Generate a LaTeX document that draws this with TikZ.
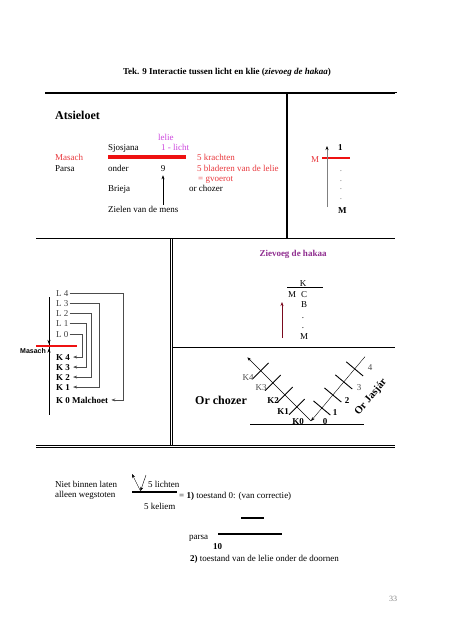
\documentclass[tikz,border=0pt]{standalone}
\usepackage{fontspec}
\setmainfont{Liberation Serif}
\newfontfamily\arialfont{Liberation Sans}
\usetikzlibrary{calc, arrows.meta}
\definecolor{roodtxt}{HTML}{E8383D}
\definecolor{roodbar}{HTML}{EE1111}
\definecolor{lila}{HTML}{CC44DD}
\definecolor{paars}{HTML}{8E2C8E}
\definecolor{donkerrood}{HTML}{7A0A1E}

\begin{document}
\begin{tikzpicture}[x=1pt, y=-1pt,
    every node/.style={inner sep=1pt, font=\fontsize{9}{11}\selectfont},
    txt/.style={anchor=base west},
    vet/.style={anchor=base west, font=\fontsize{9}{11}\selectfont\bfseries},
    rood/.style={anchor=base west, text=roodtxt},
    kader/.style={line width=1.6pt},
    dubbel/.style={double, double distance=1.4pt, line width=0.6pt},
    pijl/.style={-{Stealth[length=4pt,width=3pt]}},
    streep/.style={line width=0.9pt}]
    \useasboundingbox (0,0) rectangle (453,640);
    \draw[kader] (45,93) -- (397,93);
    \draw[kader] (287,93) -- (287,238);
    \draw[kader] (36,238.5) -- (397,238.5);
    \draw[dubbel] (396,93) -- (396,594);
    \draw[dubbel] (171.5,239) -- (171.5,446);
    \draw[thin] (172,347) -- (395,347);
    \draw[dubbel] (36,446.5) -- (395,446.5);
    \node[anchor=base, text=gray, font=\fontsize{8}{9}\selectfont] (blz) at (393,601) {33};
    \draw[dubbel] (36,594) -- (397,594);

    \node[anchor=base, font=\fontsize{9}{11}\selectfont\bfseries] (titel) at (227,74)
        {Tek. 9 Interactie tussen licht en klie (\textit{zievoeg de hakaa})};

    \node[anchor=base west, font=\fontsize{12}{14}\selectfont\bfseries] (atsieloet) at (54,119) {Atsieloet};
    \node[txt, text=lila] (lelie) at (157,140) {lelie};
    \node[txt] (sjosjana) at (107,150) {Sjosjana};
    \node[txt, text=lila] (licht) at (160,150) {1 - licht};
    \node[rood] (masach) at (54,160) {Masach};
    \draw[roodbar, line width=4pt] (108,157) -- (186,157);
    \node[rood] (krachten) at (196,160) {5 krachten};
    \node[txt] (parsa) at (54,171) {Parsa};
    \node[txt] (onder) at (107,171) {onder};
    \node[anchor=base] (negen) at (163,171) {9};
    \node[rood] (bladeren) at (196,171) {5 bladeren van de lelie};
    \node[rood] (gvoerot) at (197,181) {= gvoerot};
    \node[txt] (brieja) at (107,191) {Brieja};
    \node[txt] (chozer) at (188,191) {or chozer};
    \node[txt] (zielen) at (107,212) {Zielen van de mens};
    \draw[pijl, shorten >=3pt] (negen.south |- zielen.north) -- (negen.south);

    \node[rood] (m1) at (310,162) {M};
    \draw[roodbar, line width=1.2pt] (322,158) -- (350,158);
    \draw[gray, line width=0.8pt, -{Stealth[length=4pt,width=3pt,black]}] (327,207) -- (327,146);
    \node[vet] (een) at (337,150) {1};
    \foreach \y in {171,181,189,199}
        \node[anchor=base, text=gray] (stip\y) at (341,\y) {.};
    \node[vet] (m2) at (337,213) {M};

    \node[anchor=base, font=\fontsize{9}{11}\selectfont\bfseries, text=paars] (zievoeg) at (293,256) {Zievoeg de hakaa};
    \draw[streep] (287,287) -- (323,287);
    \node[anchor=base] (k) at (303,286) {K};
    \node[anchor=base] (mm) at (292,297) {M};
    \node[anchor=base] (c) at (304,297) {C};
    \node[anchor=base] (b) at (304,307) {B};
    \foreach \y in {318,328}
        \node[anchor=base] (punt\y) at (303,\y) {.};
    \node[anchor=base] (m3) at (304,339) {M};
    \draw[donkerrood, line width=0.9pt, pijl] (282,338) -- (282,302);

    \draw (49,297) -- (49,415);
    \foreach \i/\y in {4/296,3/306,2/316,1/326,0/337}
        \node[txt, text=black!75] (L\i) at (55,\y) {L \i};
    \foreach \i/\y in {4/360,3/370,2/380,1/390}
        \node[vet] (K\i) at (55,\y) {K \i};
    \node[vet] (K0) at (55,403) {K 0 Malchoet};
    \draw[roodbar, line width=2.5pt] (36,346) -- (77,346);
    \node[anchor=base west, inner sep=0, font=\arialfont\fontsize{7}{8}\selectfont\bfseries] (masach2) at (20,353) {Masach};
    \draw[pijl] (49,336) -- (49,344);
    \draw[pijl] (49,357) -- (49,348.5);
    \foreach \l/\k/\xr in {0/4/82,1/3/86,2/2/91,3/1/99,4/0/123}{
        \coordinate (r\l) at (\xr,0);
        \draw[black!70, pijl] (L\l.east) -- (L\l.east -| r\l) |- ([xshift=2pt]K\k.east);
    }

    \node[anchor=base, font=\fontsize{12}{14}\selectfont\bfseries] (orchozer) at (221,404) {Or chozer};
    \draw[streep] (250,424) -- (364,424);
    \coordinate (top) at (311,421);
    \draw[pijl] (top) -- ++(-135:90);
    \draw[pijl] ($(top)+(-50:84)$) -- (top);
    \foreach \d in {20,37,54,71}
        \draw[streep] ($(top)+(-135:\d)+(-45:11)$) -- ($(top)+(-135:\d)+(135:11)$);
    \foreach \d in {17,34,51,68}
        \draw[streep] ($(top)+(-50:\d)+(-140:11)$) -- ($(top)+(-50:\d)+(40:11)$);
    \node[anchor=base, text=black!70] (k4) at (248,380) {K4};
    \node[anchor=base, text=black!70] (k3) at (261,390) {K3};
    \node[anchor=base, font=\fontsize{9}{11}\selectfont\bfseries] (k2) at (273,403) {K2};
    \node[anchor=base, font=\fontsize{9}{11}\selectfont\bfseries] (k1) at (283,414) {K1};
    \node[anchor=base, font=\fontsize{9}{11}\selectfont\bfseries] (k0) at (298,424) {K0};
    \node[anchor=base, font=\fontsize{9}{11}\selectfont\bfseries] (n0) at (325,424) {0};
    \node[anchor=base, font=\fontsize{9}{11}\selectfont\bfseries] (n1) at (335,415) {1};
    \node[anchor=base, font=\fontsize{9}{11}\selectfont\bfseries] (n2) at (347,403) {2};
    \node[anchor=base, text=black!70] (n3) at (359,390) {3};
    \node[anchor=base, text=black!70] (n4) at (370,370) {4};
    \node[rotate=50, inner sep=0, font=\fontsize{10.5}{12}\selectfont\bfseries] (jasjar) at (371,397) {Or Jasjár};

    \node[txt] (niet) at (54,487) {Niet binnen laten};
    \node[txt] (alleen) at (54,497) {alleen wegstoten};
    \draw[line width=1.5pt] (132,492) -- (177,492);
    \coordinate (voet) at (140.5,491);
    \draw[pijl] (146,475) -- (voet);
    \draw[pijl] (voet) -- (132,474);
    \node[txt] (lichten) at (147,487) {5 lichten};
    \node[txt] (toestand1) at (178,498) {= \textbf{1)} toestand 0: (van correctie)};
    \node[txt] (keliem) at (143,509) {5 keliem};
    \draw[line width=1.5pt] (241,518) -- (264,518);
    \node[txt] (parsa2) at (188,539) {parsa};
    \draw[line width=1.5pt] (218,534) -- (282,534);
    \node[vet] (tien) at (212,549) {10};
    \node[txt] (toestand2) at (189,561) {\textbf{2)} toestand van de lelie onder de doornen};
\end{tikzpicture}
\end{document}
